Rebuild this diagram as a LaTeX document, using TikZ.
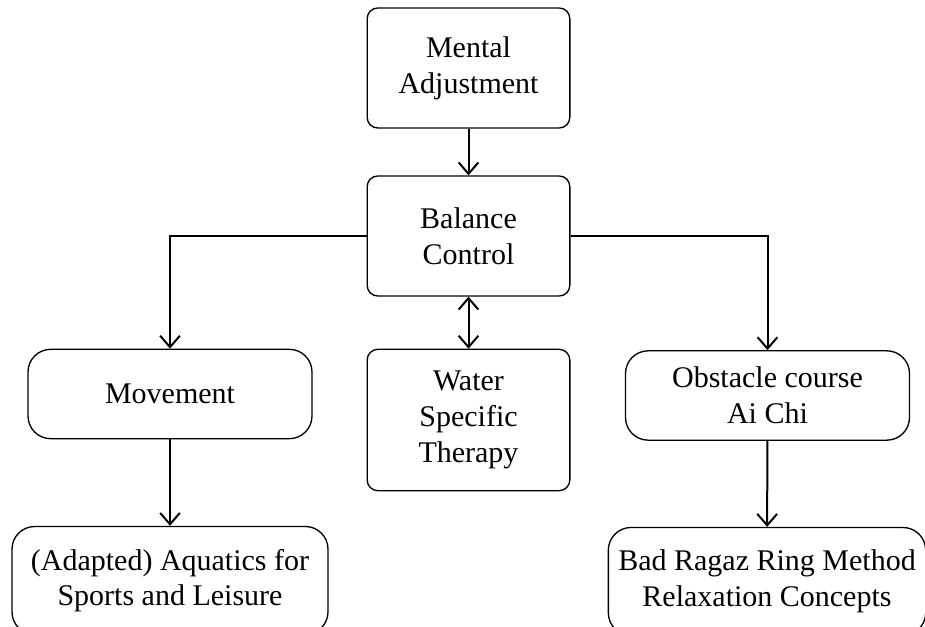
\documentclass[tikz,border=0pt]{standalone}
\usepackage{fontspec}
\setmainfont{Liberation Serif}
\usetikzlibrary{shapes, arrows.meta, positioning}
\tikzstyle{caja} = [draw, rectangle, rounded corners=8pt, line width=1pt, align=center, inner sep=0pt, font=\fontsize{22.5}{26.7}\selectfont]
\tikzstyle{cajaredonda} = [caja, rounded corners=17pt]
\tikzstyle{flecha} = [line width=1.5pt, -{Straight Barb[length=3mm, width=5.2mm, line width=1.5pt]}]
\tikzstyle{flechadoble} = [line width=1.5pt, {Straight Barb[length=3mm, width=5.2mm, line width=1.5pt]}-{Straight Barb[length=3mm, width=5.2mm, line width=1.5pt]}]

\begin{document}
\begin{tikzpicture}[x=0.75pt, y=-0.75pt]
	\useasboundingbox (0,0) rectangle (925,627);
	\clip (0,0) rectangle (925,627);
	% centre column
	\node[caja, minimum width=152pt, minimum height=90pt] (mental) at (468.5,68) {Mental\\Adjustment};
	\node[caja, minimum width=152pt, minimum height=90pt] (balance) at (468.5,236) {Balance\\Control};
	\node[caja, minimum width=152pt, minimum height=106pt] (water) at (468.5,420) {Water\\Specific\\Therapy};
	% side columns
	\node[cajaredonda, minimum width=213pt, minimum height=67pt] (movement) at (170,394) {Movement};
	\node[cajaredonda, minimum width=213pt, minimum height=67pt] (obstacle) at (767.5,395.5) {Obstacle course\\Ai Chi};
	\node[cajaredonda, minimum width=237pt, minimum height=81pt] (aquatics) at (170,580.5) {(Adapted) Aquatics for\\Sports and Leisure};
	\node[cajaredonda, minimum width=238pt, minimum height=81pt] (ragaz) at (767,581.5) {Bad Ragaz Ring Method\\Relaxation Concepts};
	% connectors
	\draw[flecha] (mental) -- (balance);
	\draw[flechadoble] (balance) -- (water);
	\draw[flecha] (balance.west) -| (movement.north);
	\draw[flecha] (balance.east) -| (obstacle.north);
	\draw[flecha] (movement) -- (aquatics);
	\draw[flecha] (obstacle) -- (ragaz);
\end{tikzpicture}
\end{document}
